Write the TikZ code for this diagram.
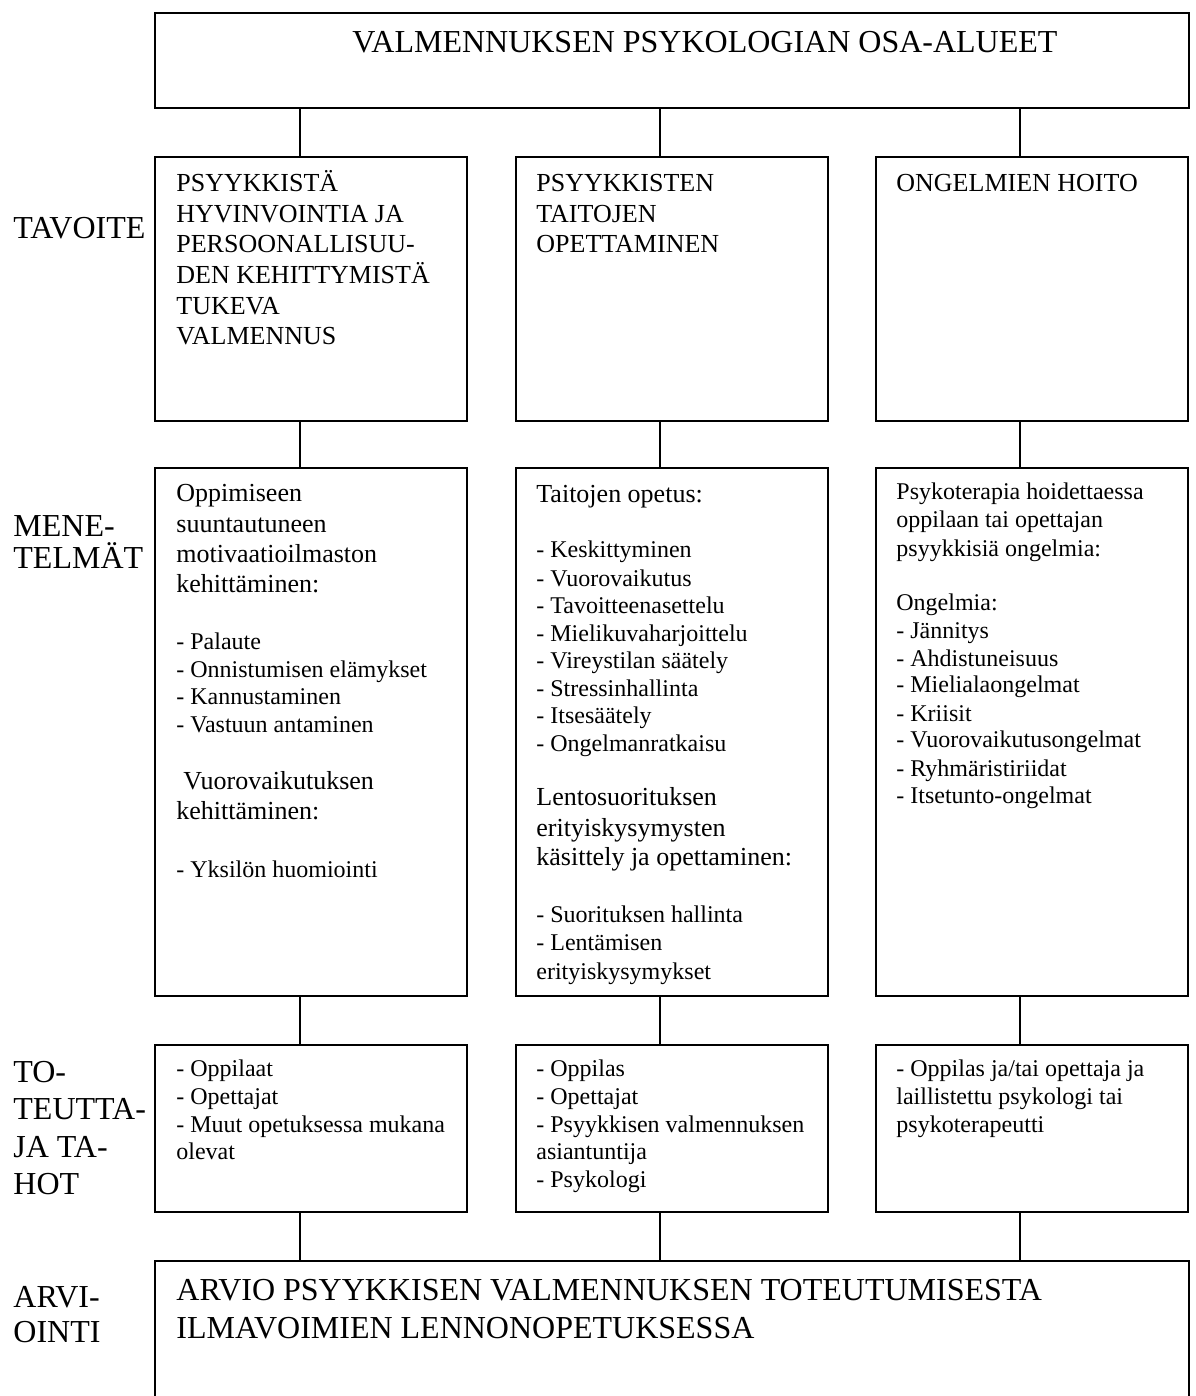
\documentclass[tikz,border=0pt]{standalone}
\usepackage{fontspec}
\setmainfont{Liberation Serif}
\usetikzlibrary{fit}
\begin{document}
\begin{tikzpicture}[x=0.5pt,y=-0.5pt,
  box/.style={draw, line width=0.9pt, inner sep=0pt},
  conn/.style={draw, line width=0.9pt},
  txt/.style={anchor=base west, inner sep=0pt},
  fsix/.style={font=\fontsize{16}{18}\selectfont},
  fthirteen/.style={font=\fontsize{13}{15}\selectfont},
  ftwelve/.style={font=\fontsize{12}{14}\selectfont}]
\useasboundingbox (0,0) rectangle (1195,1396);
\clip (0,0) rectangle (1195,1396);
% columns of connectors
\coordinate (c1) at (300,0);
\coordinate (c2) at (660,0);
\coordinate (c3) at (1020,0);
% boxes
\node[box, fit={(155,13) (1189,108)}] (top) {};
\node[box, fit={(155,157) (467,421)}] (b21) {};
\node[box, fit={(516,157) (828,421)}] (b22) {};
\node[box, fit={(876,157) (1188,421)}] (b23) {};
\node[box, fit={(155,468) (467,996)}] (b31) {};
\node[box, fit={(516,468) (828,996)}] (b32) {};
\node[box, fit={(876,468) (1188,996)}] (b33) {};
\node[box, fit={(155,1045) (467,1212)}] (b41) {};
\node[box, fit={(516,1045) (828,1212)}] (b42) {};
\node[box, fit={(876,1045) (1188,1212)}] (b43) {};
\node[box, fit={(155,1261) (1189,1440)}] (b5) {};
% connectors
\foreach \c/\n in {c1/1, c2/2, c3/3} {
  \draw[conn] (top.south -| \c) -- (b2\n.north -| \c);
  \draw[conn] (b2\n.south -| \c) -- (b3\n.north -| \c);
  \draw[conn] (b3\n.south -| \c) -- (b4\n.north -| \c);
  \draw[conn] (b4\n.south -| \c) -- (b5.north -| \c);
}
% title
\node[txt, fsix] (title) at (352,53) {VALMENNUKSEN PSYKOLOGIAN OSA-ALUEET};
% level labels
\foreach \y/\t [count=\i] in {238.5/TAVOITE, 536/MENE-, 568.5/TELMÄT, 1082.5/TO-, 1119.8/TEUTTA-, 1157.1/JA TA-, 1194.4/HOT, 1307/ARVI-, 1342.5/OINTI}
  \node[txt, fsix] (lab\i) at (13,\y) {\t};
% row 2
\foreach \y/\t [count=\i] in {191.3/PSYYKKISTÄ, 222/HYVINVOINTIA JA, 252.6/PERSOONALLISUU-, 283.6/DEN KEHITTYMISTÄ, 314.3/TUKEVA, 344.6/VALMENNUS}
  \node[txt, fthirteen] (ta\i) at (176,\y) {\t};
\foreach \y/\t [count=\i] in {191.3/PSYYKKISTEN, 222/TAITOJEN, 252.6/OPETTAMINEN}
  \node[txt, fthirteen] (tb\i) at (536,\y) {\t};
\node[txt, fthirteen] (tc1) at (896,191.3) {ONGELMIEN HOITO};
% row 3, column 1
\foreach \y/\t [count=\i] in {501/Oppimiseen, 532/suuntautuneen, 562.7/motivaatioilmaston, 592.7/kehittäminen:, 819.3/kehittäminen:}
  \node[txt, fthirteen] (ma\i) at (176,\y) {\t};
\node[txt, fthirteen] (ma6) at (183,789.3) {Vuorovaikutuksen};
\foreach \y/\t [count=\i] in {649.3/- Palaute, 677/- Onnistumisen elämykset, 704.3/- Kannustaminen, 732/- Vastuun antaminen, 877.7/- Yksilön huomiointi}
  \node[txt, ftwelve] (la\i) at (176,\y) {\t};
% row 3, column 2
\foreach \y/\t [count=\i] in {502.7/Taitojen opetus:, 805.3/Lentosuorituksen, 836/erityiskysymysten, 865.3/käsittely ja opettaminen:}
  \node[txt, fthirteen] (mb\i) at (536,\y) {\t};
\foreach \y/\t [count=\i] in {557.7/- Keskittyminen, 586/- Vuorovaikutus, 613.7/- Tavoitteenasettelu, 641/- Mielikuvaharjoittelu, 668.7/- Vireystilan säätely, 696/- Stressinhallinta, 723.7/- Itsesäätely, 751/- Ongelmanratkaisu, 922.7/- Suorituksen hallinta, 950.3/- Lentämisen, 979/erityiskysymykset}
  \node[txt, ftwelve] (lb\i) at (536,\y) {\t};
% row 3, column 3
\foreach \y/\t [count=\i] in {499.3/Psykoterapia hoidettaessa, 527.7/oppilaan tai opettajan, 556/psyykkisiä ongelmia:, 610.3/Ongelmia:, 638.3/- Jännitys, 666/- Ahdistuneisuus, 692.7/- Mielialaongelmat, 721/- Kriisit, 747.7/- Vuorovaikutusongelmat, 776/- Ryhmäristiriidat, 803.7/- Itsetunto-ongelmat}
  \node[txt, ftwelve] (lc\i) at (896,\y) {\t};
% row 4
\foreach \y/\t [count=\i] in {1076/- Oppilaat, 1104/- Opettajat, 1132/- Muut opetuksessa mukana, 1159/olevat}
  \node[txt, ftwelve] (pa\i) at (176,\y) {\t};
\foreach \y/\t [count=\i] in {1076/- Oppilas, 1104/- Opettajat, 1132/- Psyykkisen valmennuksen, 1159/asiantuntija, 1187/- Psykologi}
  \node[txt, ftwelve] (pb\i) at (536,\y) {\t};
\foreach \y/\t [count=\i] in {1076/{- Oppilas ja/tai opettaja ja}, 1104/laillistettu psykologi tai, 1132/psykoterapeutti}
  \node[txt, ftwelve] (pc\i) at (896,\y) {\t};
% row 5
\node[txt, fsix] (ar1) at (176,1300.6) {ARVIO PSYYKKISEN VALMENNUKSEN TOTEUTUMISESTA};
\node[txt, fsix] (ar2) at (176,1338.6) {ILMAVOIMIEN LENNONOPETUKSESSA};
\end{tikzpicture}
\end{document}
